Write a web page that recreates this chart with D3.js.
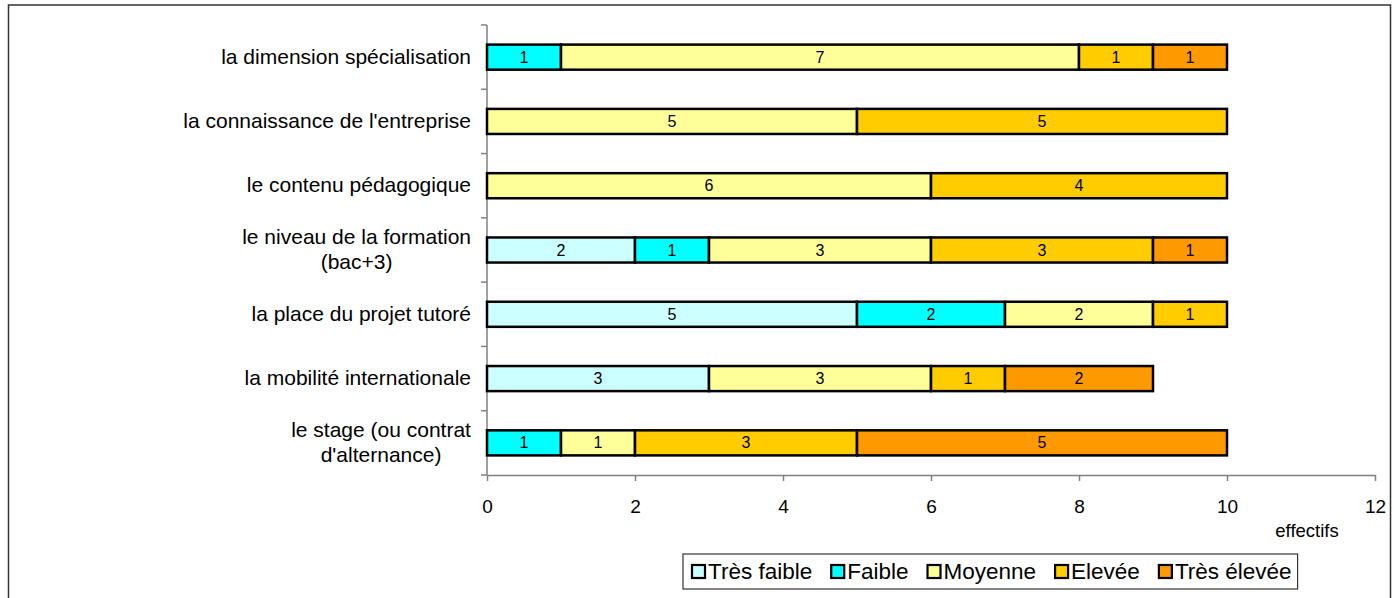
<!DOCTYPE html>
<html><head><meta charset="utf-8">
<script src="https://cdn.jsdelivr.net/npm/d3@7"></script>
<style>body{margin:0;background:#fff;} text{font-family:"Liberation Sans",Arial,sans-serif;}</style>
</head><body>
<svg id="c" width="1397" height="598"></svg>
<script>
const categories = [
  ["la dimension spécialisation"],
  ["la connaissance de l'entreprise"],
  ["le contenu pédagogique"],
  ["le niveau de la formation", "(bac+3)"],
  ["la place du projet tutoré"],
  ["la mobilité internationale"],
  ["le stage (ou contrat", "d'alternance)"]
];
const seriesNames = ["Très faible", "Faible", "Moyenne", "Elevée", "Très élevée"];
const seriesColors = ["#CCFFFF", "#00FFFF", "#FFFF99", "#FFCC00", "#FF9900"];
const tresFaible = [0, 0, 0, 2, 5, 3, 0];
const faible     = [1, 0, 0, 1, 2, 0, 1];
const moyenne    = [7, 5, 6, 3, 2, 3, 1];
const elevee     = [1, 5, 4, 3, 1, 1, 3];
const tresElevee = [1, 0, 0, 1, 0, 2, 5];
const xTicks = [0, 2, 4, 6, 8, 10, 12];
const xAxisTitle = "effectifs";

(function () {
const seriesValues = [tresFaible, faible, moyenne, elevee, tresElevee];
const svg = d3.select("#c");

svg.append("rect").attr("x", 8.5).attr("y", 5).attr("width", 1382).attr("height", 600)
  .attr("fill", "none").attr("stroke", "#333").attr("stroke-width", 1.5);

const pL = 487, pR = 1375, pT = 25, pB = 475;
const x = d3.scaleLinear().domain([0, 12]).range([pL, pR]);
const idx = d3.range(categories.length);
const y = d3.scaleBand().domain(idx).range([pT, pB]).paddingInner(0.61).paddingOuter(0.305);

const rows = idx.map(i => {
  const o = {i};
  seriesNames.forEach((s, k) => o[s] = seriesValues[k][i]);
  return o;
});
const stacked = d3.stack().keys(seriesNames)(rows);

const axisColor = "#808080";
const gx = svg.append("g").attr("transform", `translate(0,${pB})`)
  .call(d3.axisBottom(x).tickValues(xTicks).tickFormat(d3.format("d")).tickSize(6).tickSizeOuter(0));
gx.select(".domain").attr("stroke", axisColor).attr("stroke-width", 1.5);
gx.selectAll(".tick line").attr("stroke", axisColor).attr("stroke-width", 1.5);
gx.selectAll(".tick text").attr("font-size", 19).attr("fill", "#000").attr("y", 25).attr("dy", "0.71em");

const yTickPos = d3.range(categories.length + 1).map(k => pT + k * (pB - pT) / categories.length);
svg.append("line").attr("x1", pL).attr("x2", pL).attr("y1", pT).attr("y2", pB)
  .attr("stroke", axisColor).attr("stroke-width", 1.5);
svg.selectAll(".ytick").data(yTickPos).enter().append("line")
  .attr("x1", pL - 6).attr("x2", pL).attr("y1", d => d).attr("y2", d => d)
  .attr("stroke", axisColor).attr("stroke-width", 1.5);

categories.forEach((lines, i) => {
  const cy = y(i) + y.bandwidth() / 2;
  const t = svg.append("text").attr("font-size", 21).attr("fill", "#000")
    .attr("text-anchor", "middle");
  const n = lines.length;
  lines.forEach((ln, k) => {
    t.append("tspan").text(ln).attr("x", 0).attr("y", cy + (k - (n - 1) / 2) * 25 + 6.5);
  });
  const w = t.node().getBBox().width;
  t.selectAll("tspan").attr("x", 471 - w / 2);
});

stacked.forEach((layer, k) => {
  const g = svg.append("g");
  layer.forEach((d, i) => {
    const v = d[1] - d[0];
    if (v <= 0) return;
    g.append("rect").attr("x", x(d[0])).attr("y", y(i)).attr("width", x(d[1]) - x(d[0]))
      .attr("height", y.bandwidth()).attr("fill", seriesColors[k])
      .attr("stroke", "#000").attr("stroke-width", 2.5);
    g.append("text").attr("x", (x(d[0]) + x(d[1])) / 2).attr("y", y(i) + y.bandwidth() / 2 + 5.5)
      .attr("text-anchor", "middle").attr("font-size", 16).attr("fill", "#000").text(v);
  });
});

svg.append("text").attr("x", 1307).attr("y", 537).attr("text-anchor", "middle")
  .attr("font-size", 18.5).attr("fill", "#000").text(xAxisTitle);

const lg = svg.append("g");
const lx0 = 683, ly0 = 554, lh = 35;
let cx = lx0 + 9;
seriesNames.forEach((s, k) => {
  lg.append("rect").attr("x", cx).attr("y", ly0 + 11).attr("width", 13).attr("height", 13)
    .attr("fill", seriesColors[k]).attr("stroke", "#000").attr("stroke-width", 2.2);
  const t = lg.append("text").attr("x", cx + 16).attr("y", ly0 + 25).attr("font-size", 22.5)
    .attr("fill", "#000").text(s);
  cx += 16 + t.node().getComputedTextLength() + 19;
});
lg.insert("rect", ":first-child").attr("x", lx0).attr("y", ly0).attr("width", cx - 19 + 6 - lx0).attr("height", lh)
  .attr("fill", "#fff").attr("stroke", "#333").attr("stroke-width", 1.2);
})();
</script>
</body></html>
